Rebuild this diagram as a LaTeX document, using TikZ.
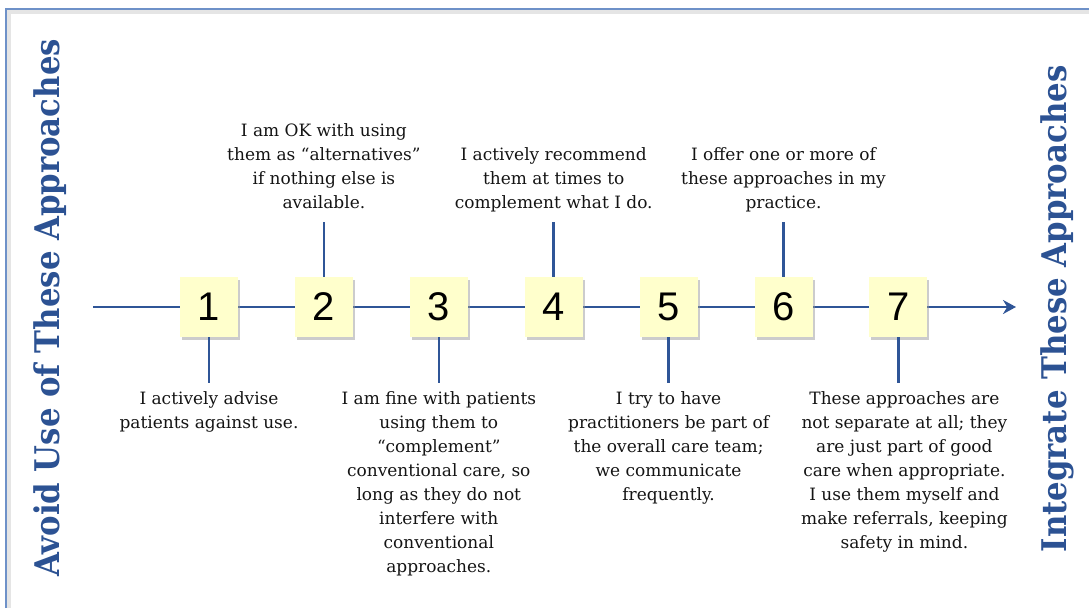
\documentclass[tikz,border=0pt]{standalone}
\usepackage{fontspec}
\setmainfont{DejaVu Serif}
\setsansfont{Liberation Sans}
\usetikzlibrary{arrows.meta, positioning, shadows}
\definecolor{axisblue}{RGB}{47,85,151}
\definecolor{headblue}{RGB}{44,82,147}
\definecolor{frameblue}{RGB}{110,145,200}
\definecolor{boxyellow}{RGB}{255,255,204}

\begin{document}
\begin{tikzpicture}[x=1pt, y=-1pt,
  font=\fontsize{17}{24}\selectfont, node distance=56.5pt,
  num/.style={rectangle, fill=boxyellow, minimum width=58pt, minimum height=60pt,
              inner sep=0pt, font=\sffamily\fontsize{40}{40}\selectfont,
              drop shadow={shadow xshift=2pt, shadow yshift=-2.5pt, fill=black!40, opacity=.5}},
  txt/.style={align=center, inner sep=0pt, text=black!92},
  head/.style={rotate=90, font=\bfseries\fontsize{34}{34}\selectfont, text=headblue},
  ln/.style={draw=axisblue, line width=2.6pt},
  ar/.style={ln, -{Stealth[length=13pt, width=14pt]}}]
\useasboundingbox (0,0) rectangle (1089,608);
% frame
\draw[black!10, line width=4pt] (9,608) -- (9,12) -- (1089,12);
\draw[frameblue, line width=1.2pt] (6,608) -- (6,9) -- (1089,9);
\node[head] (avoid) at (50,308) {\scalebox{0.905}[1]{Avoid Use of These Approaches}};
\node[head] (integ) at (1057,309) {\scalebox{0.905}[1]{Integrate These Approaches}};
% axis
\coordinate (start) at (93,307);
\coordinate (tip) at (1016,307);
\draw[ar] (start) -- (tip);
\node[num] (n1) at (209,307) {1};
\node[num, right=of n1] (n2) {2};
\node[num, right=of n2] (n3) {3};
\node[num, right=of n3] (n4) {4};
\node[num, right=of n4] (n5) {5};
\node[num, right=of n5] (n6) {6};
\node[num, right=of n6] (n7) {7};
% statements above
\node[txt, above=61pt of n2] (t2) {I am OK with using\\them as “alternatives”\\if nothing else is\\available.\strut};
\node[txt, above=61pt of n4] (t4) {I actively recommend\\them at times to\\complement what I do.\strut};
\node[txt, above=61pt of n6] (t6) {I offer one or more of\\these approaches in my\\practice.\strut};
% statements below
\node[txt, below=50pt of n1] (b1) {\strut I actively advise\\patients against use.};
\node[txt, below=50pt of n3] (b3) {\strut I am fine with patients\\using them to\\“complement”\\conventional care, so\\long as they do not\\interfere with\\conventional\\approaches.};
\node[txt, below=50pt of n5] (b5) {\strut I try to have\\practitioners be part of\\the overall care team;\\we communicate\\frequently.};
\node[txt, below=50pt of n7, xshift=6pt] (b7) {\strut These approaches are\\not separate at all; they\\are just part of good\\care when appropriate.\\I use them myself and\\make referrals, keeping\\safety in mind.};
\draw[ln, shorten >=6pt] (n2) -- (t2);
\draw[ln, shorten >=6pt] (n4) -- (t4);
\draw[ln, shorten >=6pt] (n6) -- (t6);
\draw[ln, shorten >=4pt] (n1) -- (n1 |- b1.north);
\draw[ln, shorten >=4pt] (n3) -- (b3);
\draw[ln, shorten >=4pt] (n5) -- (b5);
\draw[ln, shorten >=4pt] (n7) -- (n7 |- b7.north);
\end{tikzpicture}
\end{document}
